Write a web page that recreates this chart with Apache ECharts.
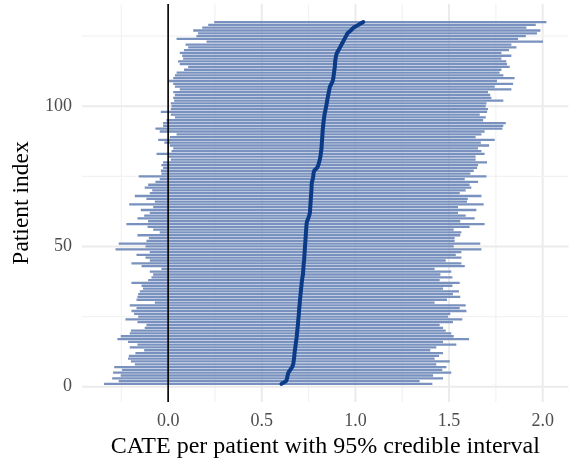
<!DOCTYPE html>
<html>
<head>
<meta charset="utf-8">
<script src="https://cdn.jsdelivr.net/npm/echarts@6/dist/echarts.min.js"></script>
<style>
  html, body { margin: 0; padding: 0; background: #ffffff; }
  #chart { width: 575px; height: 464px; }
</style>
</head>
<body>
<div id="chart"></div>
<script>
// Posterior CATE per patient, sorted by posterior median (patient 1 .. 130)
const lower = [
  -0.342, -0.264, -0.299, -0.253, -0.294, -0.246, -0.288, -0.178, -0.199, -0.214,
  -0.210, -0.175, -0.128, -0.205, -0.164, -0.214, -0.271, -0.253, -0.205, -0.199,
  -0.125, -0.116, -0.164, -0.228, -0.160, -0.182, -0.196, -0.169, -0.205, -0.071,
  -0.169, -0.164, -0.160, -0.151, -0.134, -0.142, -0.196, -0.107, -0.089, -0.080,
  -0.098, -0.036, -0.142, -0.196, -0.098, -0.121, -0.169, -0.098, -0.281, -0.121,
  -0.264, -0.116, -0.103, -0.164, -0.045, -0.080, -0.110, -0.223, -0.107, -0.164,
  -0.128, -0.098, -0.146, -0.080, -0.208, -0.071, -0.116, -0.178, -0.098, -0.085,
  -0.125, -0.107, -0.068, -0.045, -0.157, -0.036, -0.039, -0.027, -0.036, -0.027,
   0.014,  0.004, -0.062,  0.018,  0.027,  0.009, -0.020, -0.053,  0.009,  0.045,
  -0.045, -0.068, -0.027, -0.027, -0.009,  0.036,  0.014, -0.039,  0.014,  0.018,
   0.014,  0.032,  0.027,  0.036,  0.027,  0.062,  0.036,  0.027,  0.004,  0.027,
   0.036,  0.045,  0.085,  0.107,  0.062,  0.053,  0.080,  0.075,  0.062,  0.085,
   0.107,  0.093,  0.205,  0.045,  0.151,  0.160,  0.134,  0.182,  0.214,  0.246
];

const upper = [
  1.411, 1.343, 1.468, 1.415, 1.512, 1.464, 1.486, 1.432, 1.504, 1.423,
  1.447, 1.468, 1.400, 1.432, 1.539, 1.468, 1.607, 1.525, 1.512, 1.482,
  1.468, 1.450, 1.521, 1.571, 1.495, 1.507, 1.593, 1.557, 1.589, 1.423,
  1.489, 1.560, 1.521, 1.553, 1.468, 1.518, 1.557, 1.450, 1.518, 1.454,
  1.512, 1.423, 1.584, 1.566, 1.482, 1.566, 1.536, 1.566, 1.673, 1.525,
  1.667, 1.530, 1.530, 1.560, 1.566, 1.525, 1.610, 1.690, 1.560, 1.637,
  1.589, 1.548, 1.646, 1.548, 1.685, 1.596, 1.600, 1.673, 1.557, 1.589,
  1.619, 1.610, 1.655, 1.584, 1.700, 1.614, 1.632, 1.650, 1.655, 1.703,
  1.642, 1.642, 1.690, 1.673, 1.655, 1.714, 1.670, 1.744, 1.642, 1.673,
  1.690, 1.785, 1.790, 1.803, 1.682, 1.696, 1.664, 1.703, 1.708, 1.696,
  1.700, 1.790, 1.726, 1.720, 1.708, 1.833, 1.744, 1.842, 1.756, 1.850,
  1.790, 1.770, 1.780, 1.824, 1.810, 1.806, 1.780, 1.833, 1.780, 1.820,
  1.860, 1.833, 2.002, 1.869, 1.910, 1.970, 1.988, 1.913, 1.963, 2.020
];

const median = [
  0.605, 0.630, 0.635, 0.638, 0.642, 0.652, 0.662, 0.668, 0.670, 0.672,
  0.674, 0.675, 0.677, 0.679, 0.681, 0.683, 0.685, 0.687, 0.688, 0.690,
  0.691, 0.693, 0.694, 0.695, 0.697, 0.698, 0.699, 0.700, 0.702, 0.703,
  0.704, 0.706, 0.707, 0.709, 0.710, 0.712, 0.713, 0.715, 0.717, 0.720,
  0.721, 0.722, 0.723, 0.724, 0.726, 0.727, 0.728, 0.729, 0.730, 0.731,
  0.732, 0.733, 0.734, 0.735, 0.736, 0.737, 0.738, 0.739, 0.742, 0.748,
  0.753, 0.757, 0.758, 0.759, 0.760, 0.761, 0.762, 0.763, 0.764, 0.765,
  0.766, 0.766, 0.768, 0.772, 0.775, 0.776, 0.780, 0.795, 0.802, 0.806,
  0.810, 0.813, 0.815, 0.817, 0.819, 0.820, 0.821, 0.822, 0.823, 0.824,
  0.825, 0.826, 0.828, 0.829, 0.831, 0.833, 0.835, 0.838, 0.841, 0.844,
  0.847, 0.849, 0.852, 0.855, 0.858, 0.861, 0.864, 0.872, 0.879, 0.882,
  0.884, 0.886, 0.888, 0.890, 0.891, 0.892, 0.894, 0.897, 0.901, 0.910,
  0.918, 0.926, 0.934, 0.942, 0.950, 0.958, 0.975, 0.990, 1.015, 1.042
];

// Tick values and gridline positions
const xTicks = [0, 0.5, 1.0, 1.5, 2.0];
const xMinorGrid = [-0.25, 0.25, 0.75, 1.25, 1.75];
const yTicks = [0, 50, 100];
const yMinorGrid = [25, 75, 125];

const FONT = '"Liberation Serif", "DejaVu Serif", serif';

// patient index runs 1..N
const intervalData = lower.map((lo, i) => [lo, upper[i], i + 1]);
const medianData = median.map((m, i) => [m, i + 1]);

const gridData = []
  .concat(xTicks.map(v => [v, 0, 'x', 1]))
  .concat(xMinorGrid.map(v => [v, 0, 'x', 0]))
  .concat(yTicks.map(v => [0, v, 'y', 1]))
  .concat(yMinorGrid.map(v => [0, v, 'y', 0]));

const chart = echarts.init(document.getElementById('chart'), null, { renderer: 'canvas' });

chart.setOption({
  backgroundColor: '#ffffff',
  animation: false,
  grid: { left: 82, right: 6.5, top: 4, bottom: 59.3, containLabel: false },
  xAxis: {
    type: 'value',
    min: -0.46,
    max: 2.138,
    axisLine: { show: false },
    axisTick: { show: false },
    splitLine: { show: false },
    axisLabel: {
      customValues: xTicks,
      formatter: v => v.toFixed(1),
      color: '#4d4d4d',
      fontFamily: FONT,
      fontSize: 18,
      margin: 10
    },
    name: 'CATE per patient with 95% credible interval',
    nameLocation: 'middle',
    nameGap: 33,
    nameTextStyle: { color: '#000000', fontFamily: FONT, fontSize: 24 }
  },
  yAxis: {
    type: 'value',
    min: -5.45,
    max: 136.45,
    axisLine: { show: false },
    axisTick: { show: false },
    splitLine: { show: false },
    axisLabel: {
      customValues: yTicks,
      formatter: v => String(v),
      color: '#4d4d4d',
      fontFamily: FONT,
      fontSize: 18,
      margin: 10
    },
    name: 'Patient index',
    nameLocation: 'middle',
    nameGap: 46,
    nameRotate: 90,
    nameTextStyle: { color: '#000000', fontFamily: FONT, fontSize: 23.5 }
  },
  series: [
    {
      // panel gridlines
      type: 'custom',
      silent: true,
      z: 0,
      data: gridData,
      encode: { x: 0, y: 1 },
      renderItem: function (params, api) {
        const cs = params.coordSys;
        const axis = api.value(2);
        const major = api.value(3) === 1;
        const p = api.coord([api.value(0), api.value(1)]);
        const shape = axis === 'x'
          ? { x1: p[0], y1: cs.y, x2: p[0], y2: cs.y + cs.height }
          : { x1: cs.x, y1: p[1], x2: cs.x + cs.width, y2: p[1] };
        return {
          type: 'line',
          shape: shape,
          style: { stroke: major ? '#ebebeb' : '#f2f2f2', lineWidth: major ? 2 : 1.2 }
        };
      }
    },
    {
      // 95% credible intervals
      type: 'custom',
      silent: true,
      z: 2,
      data: intervalData,
      encode: { x: [0, 1], y: 2 },
      renderItem: function (params, api) {
        const a = api.coord([api.value(0), api.value(2)]);
        const b = api.coord([api.value(1), api.value(2)]);
        return {
          type: 'line',
          shape: { x1: a[0], y1: a[1], x2: b[0], y2: b[1] },
          style: { stroke: '#7891be', lineWidth: 2.3 }
        };
      }
    },
    {
      // reference line at zero effect
      type: 'custom',
      silent: true,
      z: 3,
      data: [[0, 0]],
      encode: { x: 0, y: 1 },
      renderItem: function (params, api) {
        const cs = params.coordSys;
        const p = api.coord([api.value(0), api.value(1)]);
        return {
          type: 'line',
          shape: { x1: p[0], y1: cs.y, x2: p[0], y2: cs.y + cs.height },
          style: { stroke: '#000000', lineWidth: 1.6 }
        };
      }
    },
    {
      // posterior median
      type: 'line',
      silent: true,
      z: 4,
      data: medianData,
      showSymbol: false,
      symbol: 'none',
      lineStyle: { color: '#0b3a86', width: 4, cap: 'round', join: 'round' }
    }
  ]
});
</script>
</body>
</html>
